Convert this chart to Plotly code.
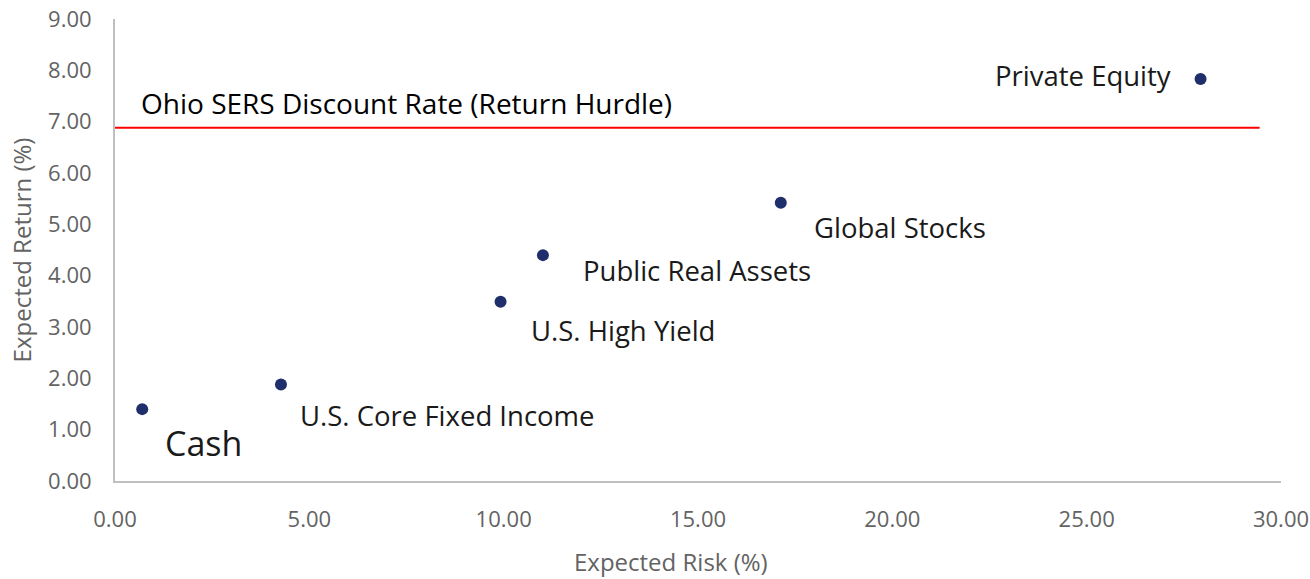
import plotly.graph_objects as go

# Data
assets = ["Cash", "U.S. Core Fixed Income", "U.S. High Yield", "Public Real Assets",
          "Global Stocks", "Private Equity"]
risk = [0.70, 4.27, 9.92, 11.01, 17.13, 27.93]
ret = [1.40, 1.88, 3.49, 4.40, 5.42, 7.83]
hurdle_rate = 6.88
hurdle_x = [0.0, 29.45]
hurdle_label = "Ohio SERS Discount Rate (Return Hurdle)"
x_title = "Expected Risk (%)"
y_title = "Expected Return (%)"
x_ticks = [0, 5, 10, 15, 20, 25, 30]
y_ticks = [0, 1, 2, 3, 4, 5, 6, 7, 8, 9]

# label styling (pixel offsets from points)
label_style = {
    "Cash": dict(xshift=21, yshift=-34, size=34, xanchor="left"),
    "U.S. Core Fixed Income": dict(xshift=17, yshift=-31, size=27.5, xanchor="left"),
    "U.S. High Yield": dict(xshift=28, yshift=-29, size=27.5, xanchor="left"),
    "Public Real Assets": dict(xshift=38, yshift=-15, size=27.5, xanchor="left"),
    "Global Stocks": dict(xshift=31, yshift=-25, size=27.5, xanchor="left"),
    "Private Equity": dict(xshift=-28, yshift=4, size=27.5, xanchor="right"),
}

FONT = "Open Sans"
GRAY = "#636363"

fig = go.Figure()
fig.add_trace(go.Scatter(x=hurdle_x, y=[hurdle_rate, hurdle_rate], mode="lines",
                         line=dict(color="#ff0000", width=2), hoverinfo="skip",
                         showlegend=False))
fig.add_trace(go.Scatter(x=risk, y=ret, mode="markers",
                         marker=dict(color="#1f2f6b", size=12),
                         text=assets, showlegend=False))

for name, xv, yv in zip(assets, risk, ret):
    st = label_style[name]
    fig.add_annotation(x=xv, y=yv, text=name, showarrow=False,
                       xanchor=st["xanchor"], yanchor="middle",
                       xshift=st["xshift"], yshift=st["yshift"],
                       font=dict(family=FONT, size=st["size"], color="#1a1a1a"))

fig.add_annotation(x=hurdle_x[0], y=hurdle_rate, text=hurdle_label, showarrow=False,
                   xanchor="left", yanchor="middle", xshift=24, yshift=25,
                   font=dict(family=FONT, size=28, color="#000000"))

# x-axis title (slightly left of centre, as in the reference)
fig.add_annotation(xref="paper", yref="paper", x=0.477, y=0, text=x_title,
                   showarrow=False, xanchor="center", yanchor="middle", yshift=-80,
                   font=dict(family=FONT, size=24, color=GRAY))

fig.update_layout(
    width=1310, height=579,
    margin=dict(l=115, r=29, t=19, b=98, autoexpand=False),
    paper_bgcolor="white", plot_bgcolor="white",
    font=dict(family=FONT, color=GRAY),
    xaxis=dict(range=[0, 30], tickvals=x_ticks,
               ticktext=[f"{v:.2f}" for v in x_ticks],
               showgrid=False, zeroline=False, showline=True, automargin=False,
               linecolor="#bfbfbf", linewidth=2, ticks="",
               ticklabelstandoff=18,
               tickfont=dict(family=FONT, size=22, color=GRAY)),
    yaxis=dict(range=[0, 9], tickvals=y_ticks,
               ticktext=[f"{v:.2f}" for v in y_ticks],
               showgrid=False, zeroline=False, showline=True, automargin=False,
               linecolor="#bfbfbf", linewidth=2, ticks="",
               ticklabelstandoff=17,
               tickfont=dict(family=FONT, size=22, color=GRAY),
               title=dict(text=y_title, standoff=10,
                          font=dict(family=FONT, size=24, color=GRAY))),
)

fig.write_html("out.html", config={"displayModeBar": False},
               post_script="document.body.style.margin='0';")
